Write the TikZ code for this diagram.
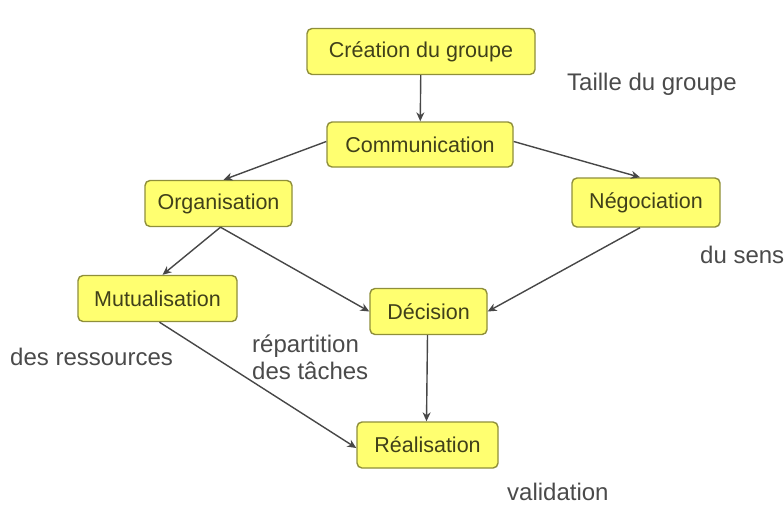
\documentclass[tikz,border=0pt]{standalone}
\usepackage{fontspec}
\setmainfont{Liberation Sans}
\usetikzlibrary{arrows.meta}

\definecolor{boxfill}{HTML}{FFFF70}
\definecolor{boxedge}{HTML}{8F8F3A}
\definecolor{boxtext}{HTML}{40401A}
\definecolor{labeltext}{HTML}{4A4A4A}
\definecolor{arrowgray}{HTML}{474747}

\tikzset{
  etape/.style={draw=boxedge, fill=boxfill, line width=1.4pt, rounded corners=5pt,
    text=boxtext, font=\fontsize{21.5}{24}\selectfont, minimum height=46pt, inner sep=0pt},
  remarque/.style={text=labeltext, font=\fontsize{24}{27}\selectfont, inner sep=0pt, align=left},
  fleche/.style={draw=arrowgray, line width=1.4pt, -{Stealth[length=9pt,width=8pt]}}
}

\begin{document}
\begin{tikzpicture}[x=1pt, y=-1pt]

      \useasboundingbox (0, 0) rectangle (784, 507);

      % les etapes
      \node[etape, minimum width=228pt] (creation) at (421, 51.5) {Création du groupe};
      \node[etape, minimum width=186pt, minimum height=45pt] (comm) at (420, 144.5) {Communication};
      \node[etape, minimum width=147pt] (orga) at (218.5, 203.5) {Organisation};
      \node[etape, minimum width=148pt, minimum height=49pt] (nego) at (646, 202.5) {Négociation};
      \node[etape, minimum width=159pt] (mutu) at (157.5, 298.5) {Mutualisation};
      \node[etape, minimum width=117pt] (deci) at (428.5, 311.5) {Décision};
      \node[etape, minimum width=141pt] (real) at (427.5, 445) {Réalisation};

      % les remarques
      \node[remarque, anchor=base west] (taille) at (567, 90) {Taille du groupe};
      \node[remarque, anchor=base west] (sens) at (700, 263) {du sens};
      \node[remarque, anchor=base west] (ressources) at (10, 365) {des ressources};
      \node[remarque, anchor=base west] (repartition) at (252, 352) {répartition};
      \node[remarque, anchor=base west] (taches) at (252, 379) {des tâches};
      \node[remarque, anchor=base west] (validation) at (507, 500) {validation};

      % les liens
      \draw[fleche] (creation) -- (comm);
      \draw[fleche] ([yshift=3pt]comm.west) -- ([xshift=5pt]orga.north);
      \draw[fleche] ([yshift=3pt]comm.east) -- ([xshift=-6pt]nego.north);
      \draw[fleche] ([xshift=2pt]orga.south) -- ([xshift=5pt]mutu.north);
      \draw[fleche] ([xshift=2pt]orga.south) -- (deci.west);
      \draw[fleche] ([xshift=-6pt]nego.south) -- (deci.east);
      \draw[fleche] ([xshift=2pt]mutu.south) -- ([yshift=-3pt]real.west);
      \draw[fleche] ([xshift=-1pt]deci.south) -- ([xshift=-1pt]real.north);

    \end{tikzpicture}
\end{document}
